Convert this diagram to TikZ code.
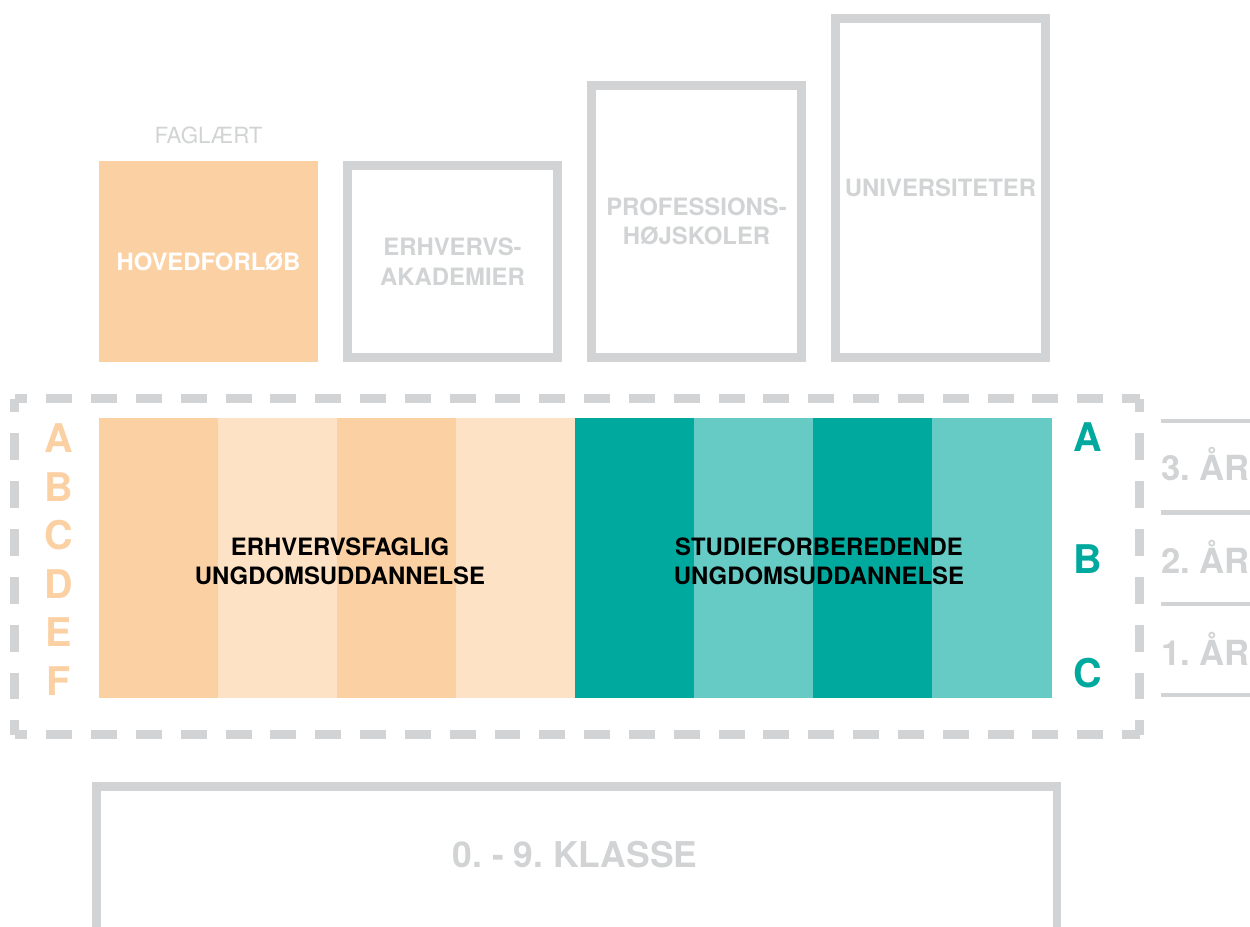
\documentclass[tikz,border=0pt]{standalone}
\usepackage{fontspec}
\setmainfont{TeX Gyre Heros}
\frenchspacing

\definecolor{rule}{HTML}{D1D3D4}
\definecolor{apricot}{HTML}{FBD0A3}
\definecolor{apricotlight}{HTML}{FDE2C6}
\definecolor{tealdark}{HTML}{00A99D}
\definecolor{teallight}{HTML}{66CBC4}

\newcommand{\boxlabel}{\fontsize{13.6}{16.7}\selectfont\bfseries}
\newcommand{\notefont}{\fontsize{12.7}{15}\selectfont}
\newcommand{\sidefont}{\fontsize{22.5}{27}\selectfont\bfseries}
\newcommand{\yearfont}{\fontsize{19.7}{23}\selectfont\bfseries}
\newcommand{\classfont}{\fontsize{20.2}{24}\selectfont\bfseries}

\begin{document}
\begin{tikzpicture}[
    x = 0.02cm,
    y = -0.02cm,
    framebox/.style = {draw=rule, line width=5.1pt, inner sep=0pt,
      align=center, text=rule, font=\boxlabel},
    column/.style = {inner sep=0pt, minimum width=2.39cm,
      minimum height=5.6cm, anchor=north west},
    dashframe/.style = {draw=rule, line width=5.1pt},
    ]
    \useasboundingbox (0,0) rectangle (1250,926);
    % upper boxes
    \node[fill=apricot, inner sep=0pt, minimum width=4.38cm,
      minimum height=4.02cm, text=white, font=\boxlabel]
      (forloeb) at (208.5,261.5) {HOVEDFORLØB};
    \node[anchor=base, text=rule, font=\notefont]
      (faglaert) at (208.5,143) {FAGLÆRT};
    \node[framebox, minimum width=4.2cm, minimum height=3.84cm]
      (akademi) at (452.5,261.5) {ERHVERVS-\\AKADEMIER};
    \node[framebox, minimum width=4.2cm, minimum height=5.44cm]
      (profession) at (696.5,221.5) {PROFESSIONS-\\HØJSKOLER};
    \node[framebox, minimum width=4.2cm, minimum height=6.78cm]
      (uni) at (940.5,188) {UNIVERSITETER};
    % youth education band
    \foreach \col [count=\i from 0] in {apricot, apricotlight, apricot,
      apricotlight, tealdark, teallight, tealdark, teallight}
    \node[column, fill=\col] (band\i) at ({99+119*\i}, 418) {};
    \node[font=\boxlabel, align=center] (eud) at (340,561)
      {ERHVERVSFAGLIG\\UNGDOMSUDDANNELSE};
    \node[font=\boxlabel, align=center] (gym) at (819,561)
      {STUDIEFORBEREDENDE\\UNGDOMSUDDANNELSE};
    % grade letters
    \foreach \l [count=\i from 0] in {A, B, C, D, E, F}
    \node[anchor=base, text=apricot, font=\sidefont]
      (grade\l) at (59, {452.5+48.5*\i}) {\l};
    \foreach \l/\y in {A/451, B/573, C/687}
    \node[anchor=base, text=tealdark, font=\sidefont]
      (track\l) at (1088,\y) {\l};
    % years
    \foreach \n/\y in {3/480, 2/573, 1/665}
    \node[anchor=base west, inner sep=0pt, text=rule, font=\yearfont]
      (year\n) at (1161,\y) {\n. ÅR};
    \foreach \y in {421, 512.5, 604, 695}
    \draw[rule, line width=2.6pt] (1161,\y) -- (1260,\y);
    % dashed frame
    \begin{scope}[dashframe]
      \draw[dash pattern=on 14.74pt off 10.77pt, dash phase=7.37pt]
      (14.5,398.5) -- (1139.5,398.5);
      \draw[dash pattern=on 14.74pt off 10.77pt, dash phase=7.37pt]
      (14.5,734.5) -- (1139.5,734.5);
      \draw[dash pattern=on 15.31pt off 11.91pt, dash phase=7.37pt]
      (14.5,398.5) -- (14.5,734.5);
      \draw[dash pattern=on 15.31pt off 11.91pt, dash phase=7.37pt]
      (1139.5,398.5) -- (1139.5,734.5);
    \end{scope}
    % primary school
    \draw[rule, line width=5.1pt] (96.5,935) |- (1057,786.5) -- (1057,935);
    \node[anchor=base, text=rule, font=\classfont]
      (klasse) at (575,867) {0. - 9. KLASSE};
  \end{tikzpicture}
\end{document}
